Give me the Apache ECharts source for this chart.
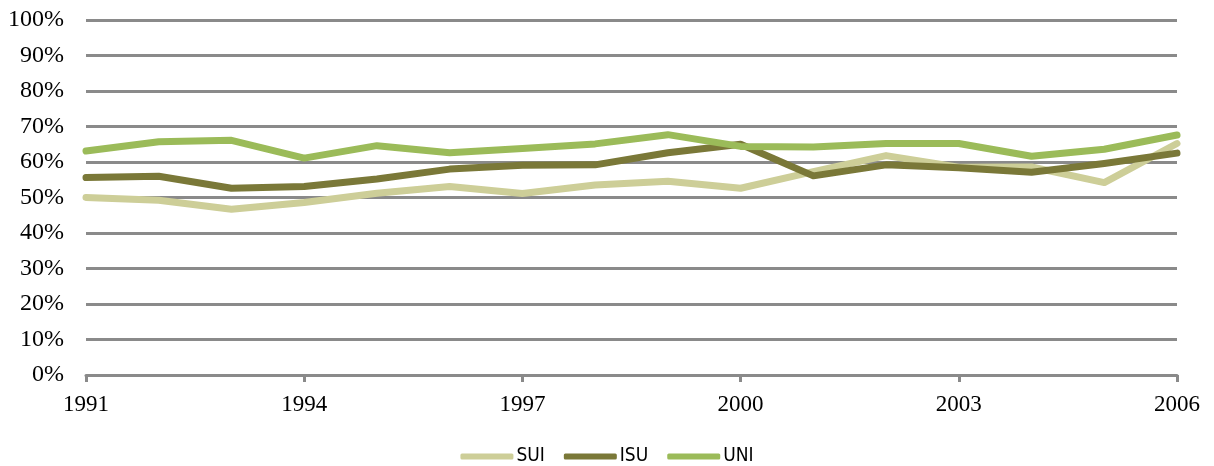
<!DOCTYPE html>
<html>
<head>
<meta charset="utf-8">
<title>SUI / ISU / UNI 1991–2006</title>
<script src="https://cdn.jsdelivr.net/npm/echarts@6/dist/echarts.min.js"></script>
<style>
  html, body { margin: 0; padding: 0; background: #fff; }
  #chart { width: 1214px; height: 466px; }
</style>
</head>
<body>
<div id="chart"></div>
<script>
// Years on the horizontal axis
const years = ['1991','1992','1993','1994','1995','1996','1997','1998',
               '1999','2000','2001','2002','2003','2004','2005','2006'];

// Shares in percent
const sui = [50.0, 49.2, 46.7, 48.6, 51.2, 53.1, 51.1, 53.5, 54.6, 52.6, 57.3, 61.8, 58.5, 58.6, 54.2, 65.2];
const isu = [55.6, 56.0, 52.6, 53.1, 55.2, 58.0, 59.1, 59.2, 62.6, 65.0, 56.1, 59.2, 58.4, 57.1, 59.6, 62.5];
const uni = [63.1, 65.7, 66.1, 61.1, 64.6, 62.6, 63.8, 65.1, 67.7, 64.4, 64.2, 65.2, 65.2, 61.6, 63.6, 67.6];

const seriesNames = ['SUI', 'ISU', 'UNI'];
const seriesColors = ['#cdce98', '#7a7838', '#9bbb59'];
const seriesData = [sui, isu, uni];

const gridGray = '#8a8a8a';
const serif = '"Liberation Serif", "Times New Roman", serif';

const chart = echarts.init(document.getElementById('chart'));

chart.setOption({
  animation: false,
  backgroundColor: '#ffffff',
  grid: { left: 86, right: 37, top: 20, bottom: 91, containLabel: false },
  xAxis: {
    type: 'category',
    data: years,
    boundaryGap: false,
    axisLine: { lineStyle: { color: gridGray, width: 3 } },
    axisTick: {
      show: true, interval: 2, length: 7, alignWithLabel: true,
      lineStyle: { color: gridGray, width: 3 }
    },
    axisLabel: {
      interval: 2, margin: 18,
      color: '#000', fontFamily: serif, fontSize: 23
    },
    splitLine: { show: false }
  },
  yAxis: {
    type: 'value',
    min: 0, max: 100, interval: 10,
    axisLine: { show: false },
    axisTick: { show: false },
    axisLabel: {
      formatter: '{value}%', margin: 22,
      color: '#000', fontFamily: serif, fontSize: 24
    },
    splitLine: { lineStyle: { color: gridGray, width: 3 } }
  },
  legend: {
    top: 442,
    left: 'center',
    icon: 'roundRect',
    itemWidth: 53,
    itemHeight: 6,
    itemGap: 19,
    textStyle: {
      fontFamily: '"DejaVu Sans Condensed", "Open Sans", sans-serif',
      fontSize: 19, color: '#000', padding: [0, 0, 0, -2]
    },
    data: seriesNames
  },
  series: seriesNames.map((name, i) => ({
    name: name,
    type: 'line',
    data: seriesData[i],
    symbol: 'none',
    smooth: false,
    color: seriesColors[i],
    lineStyle: { width: 7, color: seriesColors[i], cap: 'round', join: 'round' },
    z: 2 + i
  }))
});
</script>
</body>
</html>
